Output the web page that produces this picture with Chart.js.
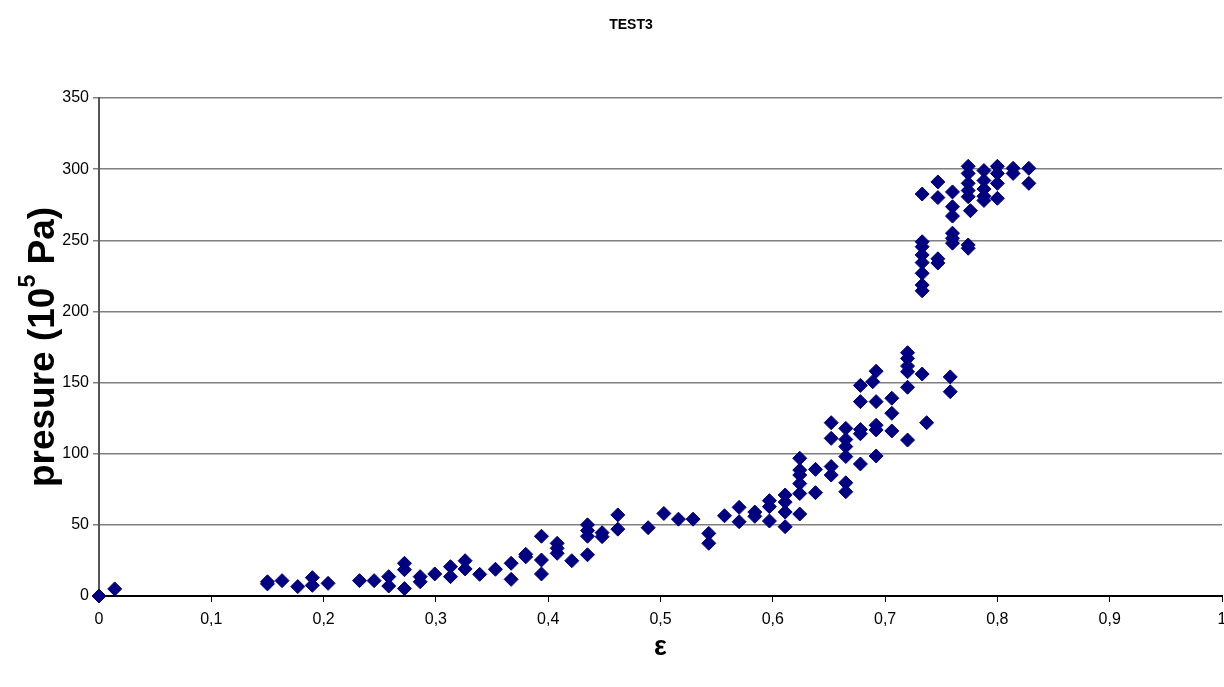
<!DOCTYPE html>
<html>
<head>
<meta charset="utf-8">
<title>TEST3</title>
<script src="https://cdn.jsdelivr.net/npm/chart.js@4.4.1/dist/chart.umd.min.js"></script>
<style>
    html, body { margin: 0; padding: 0; background: #fff; overflow: hidden; }
    #wrap { position: relative; width: 1224px; height: 687px; overflow: hidden; }
    #testChart { display: block; }
</style>
</head>
<body>
<div id="wrap"><canvas id="testChart"></canvas></div>
<script>
// --- Data ---
const epsilonValues = [
    0, 0.014,
    0.150, 0.150, 0.163, 0.177, 0.190, 0.190, 0.204, 0.232, 0.245, 0.258, 0.258,
    0.272, 0.272, 0.272, 0.286, 0.286, 0.299, 0.313, 0.313, 0.326, 0.326, 0.339,
    0.353, 0.367, 0.367, 0.380, 0.380, 0.394, 0.394, 0.394, 0.408, 0.408, 0.408,
    0.421, 0.435, 0.435, 0.435, 0.435, 0.448, 0.448, 0.462, 0.462, 0.489, 0.503,
    0.516, 0.529, 0.543, 0.543, 0.557, 0.570, 0.570, 0.584, 0.584, 0.597, 0.597,
    0.597, 0.611, 0.611, 0.611, 0.611,
    0.624, 0.624, 0.624, 0.624, 0.624, 0.624, 0.638, 0.638,
    0.652, 0.652, 0.652, 0.652, 0.665, 0.665, 0.665, 0.665, 0.665, 0.665,
    0.678, 0.678, 0.678, 0.678, 0.678, 0.692, 0.689, 0.692, 0.692, 0.692, 0.692,
    0.706, 0.706, 0.706, 0.720, 0.720, 0.720, 0.720, 0.720, 0.720, 0.733, 0.737,
    0.758, 0.758,
    0.733, 0.733, 0.733, 0.733, 0.733, 0.733, 0.733, 0.733,
    0.747, 0.747, 0.747, 0.747,
    0.760, 0.760, 0.760, 0.760, 0.760, 0.760,
    0.774, 0.774, 0.774, 0.774, 0.774, 0.776, 0.774, 0.774,
    0.788, 0.788, 0.788, 0.788, 0.788,
    0.800, 0.800, 0.800, 0.800,
    0.814, 0.814, 0.828, 0.828
];
const pressureValues = [
    0, 5,
    10, 8.5, 10.8, 6.6, 12.9, 7.5, 8.9, 10.8, 10.8, 13.6, 7,
    23, 18.5, 5.2, 13.6, 10, 15.5, 20.6, 13.6, 24.8, 19, 15.2,
    18.8, 23, 11.7, 29.3, 27.5, 42, 25.3, 15.5, 37, 33.5, 30,
    24.8, 50, 46, 42, 29, 44.5, 41.7, 57, 47, 48, 58,
    54, 54, 44, 37, 56.4, 62.3, 52.2, 59, 56, 67, 62.8,
    52.7, 71, 66, 59, 48.7,
    96.8, 88.5, 85, 79, 72, 57.6, 89, 72.6,
    121.8, 110.8, 91, 85, 117.8, 110, 105, 98, 79.6, 73.3,
    148, 136.6, 117, 114, 92.8, 158, 150.6, 136.6, 120, 116.7, 98.4,
    139, 128.4, 116, 171, 167, 161.6, 157.6, 146.7, 109.6, 156, 121.8,
    154, 143.6,
    282.5, 249, 245.5, 239.7, 234.3, 226.8, 218.6, 214.5,
    291, 280, 237, 234,
    284, 273.6, 267, 255, 251.4, 248,
    302, 297, 290, 285, 280.6, 270.8, 246.7, 244.4,
    299, 292, 286, 281, 278,
    302, 297, 290, 279.5,
    300.6, 297, 300.6, 290
];
const xTicks = [0, 0.1, 0.2, 0.3, 0.4, 0.5, 0.6, 0.7, 0.8, 0.9, 1];
const yTicks = [0, 50, 100, 150, 200, 250, 300, 350];

const FONT = "'Liberation Sans', Arial, sans-serif";
const NAVY = '#000080';

const points = epsilonValues.map((x, i) => ({ x: x, y: pressureValues[i] }));

// chart title and the two axis titles (y title needs a superscript)
const chartTexts = {
    id: 'chartTexts',
    afterDraw(chart) {
        const ctx = chart.ctx;
        const area = chart.chartArea;
        ctx.save();
        ctx.fillStyle = '#000';
        ctx.textAlign = 'center';
        ctx.textBaseline = 'middle';

        // title
        ctx.font = 'bold 14px ' + FONT;
        ctx.fillText('TEST3', 631, 25);

        // x title
        ctx.font = 'bold 27px ' + FONT;
        ctx.fillText('ε', (area.left + area.right) / 2, 648);

        // y title, rotated
        const main = 'bold 37px ' + FONT;
        const sup = 'bold 23px ' + FONT;
        const parts = [['presure (10', main, 0], ['5', sup, -15], [' Pa)', main, 0]];
        let total = 0;
        parts.forEach(p => { ctx.font = p[1]; total += ctx.measureText(p[0]).width; });
        ctx.translate(44, (area.top + area.bottom) / 2);
        ctx.rotate(-Math.PI / 2);
        ctx.textAlign = 'left';
        let pos = -total / 2;
        parts.forEach(p => {
            ctx.font = p[1];
            ctx.fillText(p[0], pos, p[2]);
            pos += ctx.measureText(p[0]).width;
        });
        ctx.restore();
    }
};

new Chart(document.getElementById('testChart').getContext('2d'), {
    type: 'scatter',
    data: {
        datasets: [{
            label: 'TEST3',
            data: points,
            pointStyle: 'rectRot',
            pointRadius: 7,
            pointHoverRadius: 7,
            backgroundColor: NAVY,
            borderColor: NAVY,
            borderWidth: 1,
            clip: false
        }]
    },
    options: {
        responsive: true,
        maintainAspectRatio: false,
        animation: false,
        layout: {
            autoPadding: false,
            padding: { left: 0, right: 2, top: 98, bottom: 0 }
        },
        plugins: {
            legend: { display: false },
            tooltip: { enabled: false },
            title: { display: false }
        },
        scales: {
            x: {
                type: 'linear',
                min: 0,
                max: 1,
                afterBuildTicks: scale => { scale.ticks = xTicks.map(v => ({ value: v })); },
                afterFit: scale => {
                    scale.height = 91;
                    scale.paddingLeft = 0;
                    scale.paddingRight = 0;
                },
                ticks: {
                    color: '#000',
                    font: { family: FONT, size: 16 },
                    padding: 8,
                    maxRotation: 0,
                    callback: v => String(v).replace('.', ',')
                },
                grid: {
                    drawOnChartArea: false,
                    drawTicks: true,
                    tickLength: 6,
                    color: '#000'
                },
                border: { display: true, color: '#000', width: 2 }
            },
            y: {
                type: 'linear',
                min: 0,
                max: 350,
                afterBuildTicks: scale => { scale.ticks = yTicks.map(v => ({ value: v })); },
                afterFit: scale => {
                    scale.width = 99;
                    scale.paddingTop = 0;
                    scale.paddingBottom = 0;
                },
                ticks: {
                    color: '#000',
                    font: { family: FONT, size: 16 },
                    padding: 4
                },
                grid: {
                    color: '#808080',
                    lineWidth: 1.5,
                    drawTicks: true,
                    tickLength: 6
                },
                border: { display: true, color: '#555', width: 2 }
            }
        }
    },
    plugins: [chartTexts]
});
</script>
</body>
</html>
